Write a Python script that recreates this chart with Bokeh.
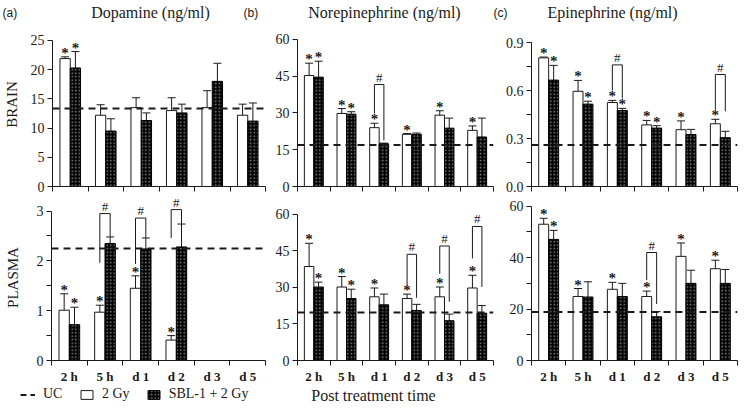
import math
from bokeh.plotting import figure
from bokeh.layouts import column, row
from bokeh.models import (ColumnDataSource, FixedTicker, Whisker, TeeHead,
                          LabelSet, Arrow, Legend, LegendItem, Range1d)
from bokeh.core.properties import value
from bokeh.embed import file_html
from bokeh.resources import INLINE

NAN = float("nan")
categories = ["2 h", "5 h", "d 1", "d 2", "d 3", "d 5"]

# ---- (a) Dopamine, brain
da_brain_2gy = [21.9, 12.2, 13.5, 13.0, 13.5, 12.2]
da_brain_2gy_err = [0.3, 1.8, 1.7, 2.2, 2.9, 1.9]
da_brain_sbl = [20.3, 9.5, 11.3, 12.6, 18.0, 11.2]
da_brain_sbl_err = [2.8, 2.1, 1.3, 1.5, 3.1, 3.1]
da_brain_uc = 13.35
da_brain_star_2gy = [1, 0, 0, 0, 0, 0]
da_brain_star_sbl = [1, 0, 0, 0, 0, 0]
da_brain_br_cat, da_brain_br_left, da_brain_br_top, da_brain_br_right = [], [], [], []
da_brain_yticks = [0, 5, 10, 15, 20, 25]
da_brain_ylabels = ["0", "5", "10", "15", "20", "25"]

# ---- (a) Dopamine, plasma
da_plasma_2gy = [1.01, 0.97, 1.45, 0.41, NAN, NAN]
da_plasma_2gy_err = [0.33, 0.14, 0.25, 0.09, NAN, NAN]
da_plasma_sbl = [0.72, 2.35, 2.24, 2.28, NAN, NAN]
da_plasma_sbl_err = [0.35, 0.13, 0.22, 0.46, NAN, NAN]
da_plasma_uc = 2.25
da_plasma_star_2gy = [1, 1, 1, 1, 0, 0]
da_plasma_star_sbl = [1, 0, 0, 0, 0, 0]
da_plasma_br_cat = [1, 2, 3]
da_plasma_br_left = [1.96, 1.94, 2.46]
da_plasma_br_top = [2.95, 2.86, 3.03]
da_plasma_br_right = [2.48, 2.46, 2.74]
da_plasma_yticks = [0, 0.5, 1, 1.5, 2, 2.5, 3]
da_plasma_ylabels = ["0", "", "1", "", "2", "", "3"]

# ---- (b) Norepinephrine, brain
ne_brain_2gy = [45.3, 29.8, 24.0, 21.3, 29.1, 22.9]
ne_brain_2gy_err = [5.0, 2.0, 1.8, 0.3, 1.8, 1.8]
ne_brain_sbl = [44.6, 29.5, 17.4, 21.3, 23.8, 20.2]
ne_brain_sbl_err = [6.5, 1.0, 0.3, 0.5, 4.1, 7.7]
ne_brain_uc = 16.9
ne_brain_star_2gy = [1, 1, 1, 1, 1, 1]
ne_brain_star_sbl = [1, 1, 0, 0, 0, 0]
ne_brain_br_cat = [2]
ne_brain_br_left = [29.8]
ne_brain_br_top = [41.6]
ne_brain_br_right = [18.8]
ne_brain_yticks = [0, 15, 30, 45, 60]
ne_brain_ylabels = ["0", "15", "30", "45", "60"]

# ---- (b) Norepinephrine, plasma
ne_plasma_2gy = [38.5, 30.1, 26.1, 25.4, 26.1, 29.7]
ne_plasma_2gy_err = [9.5, 4.3, 3.6, 1.8, 4.0, 5.2]
ne_plasma_sbl = [30.1, 25.4, 22.8, 20.5, 16.3, 19.4]
ne_plasma_sbl_err = [2.0, 3.8, 4.4, 2.5, 2.7, 3.1]
ne_plasma_uc = 19.7
ne_plasma_star_2gy = [1, 1, 1, 1, 1, 1]
ne_plasma_star_sbl = [1, 1, 0, 0, 0, 0]
ne_plasma_br_cat = [3, 4, 5]
ne_plasma_br_left = [30.8, 35.5, 41.8]
ne_plasma_br_top = [43.5, 46.9, 54.9]
ne_plasma_br_right = [25.7, 24.1, 30.1]
ne_plasma_yticks = [0, 15, 30, 45, 60]
ne_plasma_ylabels = ["0", "15", "30", "45", "60"]

# ---- (c) Epinephrine, brain
ep_brain_2gy = [0.804, 0.595, 0.525, 0.385, 0.355, 0.392]
ep_brain_2gy_err = [0.005, 0.068, 0.013, 0.028, 0.055, 0.028]
ep_brain_sbl = [0.665, 0.515, 0.475, 0.365, 0.325, 0.305]
ep_brain_sbl_err = [0.092, 0.018, 0.013, 0.015, 0.032, 0.040]
ep_brain_uc = 0.26
ep_brain_star_2gy = [1, 1, 1, 1, 1, 1]
ep_brain_star_sbl = [1, 1, 1, 1, 0, 0]
ep_brain_br_cat = [2, 5]
ep_brain_br_left = [0.60, 0.48]
ep_brain_br_top = [0.76, 0.70]
ep_brain_br_right = [0.55, 0.47]
ep_brain_yticks = [0, 0.15, 0.3, 0.45, 0.6, 0.75, 0.9]
ep_brain_ylabels = ["0.0", "", "0.3", "", "0.6", "", "0.9"]

# ---- (c) Epinephrine, plasma
ep_plasma_2gy = [53.0, 24.9, 27.7, 24.9, 40.5, 35.7]
ep_plasma_2gy_err = [2.3, 3.1, 2.7, 2.1, 5.2, 3.3]
ep_plasma_sbl = [47.1, 24.7, 24.9, 17.0, 30.0, 30.0]
ep_plasma_sbl_err = [3.5, 5.9, 5.1, 2.0, 5.1, 5.4]
ep_plasma_uc = 18.9
ep_plasma_star_2gy = [1, 1, 1, 1, 1, 1]
ep_plasma_star_sbl = [1, 0, 0, 0, 0, 0]
ep_plasma_br_cat = [3]
ep_plasma_br_left = [31.3]
ep_plasma_br_top = [42.0]
ep_plasma_br_right = [22.0]
ep_plasma_yticks = [0, 10, 20, 30, 40, 50, 60]
ep_plasma_ylabels = ["0", "", "20", "", "40", "", "60"]

panel_titles = ["Dopamine (ng/ml)", "Norepinephrine  (ng/ml)", "Epinephrine  (ng/ml)"]
panel_tags = ["(a)", "(b)", "(c)"]
row_names = ["BRAIN", "PLASMA"]
x_title = "Post treatment  time"
legend_labels = ["UC", "2 Gy", "SBL-1 + 2 Gy"]

# ---- layout / style constants
SERIF = "Liberation Serif"
SANS = "Liberation Sans"
INK = "#1a1a1a"
BAR_OFF = 0.145
BAR_W = 0.29
TOTAL_W = 745
HEAD_H, ROW1_H, ROW2_H, FOOT_H = 22, 172, 192, 27
ROW1_BB, ROW2_BB = 8, 22
COL_W = [272, 224, 249]
COL_BL = [51, 25, 35]
COL_BR = [7, 3, 8]
# visible top of each frame (the axis line stops at the last tick)
ROW1_TOP = [28.08, 66.9, 1.025]
ROW2_TOP = [3.333, 68.0, 64.56]
TAG_X = [2, 243, 493]
TITLE_X = [150, 386, 614]
HEAD_Y = 10
X_TITLE_POS = (375, 18)


def hatch_kw():
    return dict(fill_color="black", line_color="black", line_width=1,
                hatch_pattern="dot", hatch_color="#8a8a8a", hatch_scale=3.5,
                hatch_weight=1)


def panel(ci, height, bb, ytop, yticks, ylabels, v2, e2, vs, es, uc,
          st2, sts, bcat, bleft, btop, bright, show_x):
    n = len(categories)
    p = figure(width=COL_W[ci], height=height, output_backend="svg",
               toolbar_location=None, x_range=Range1d(0, n),
               y_range=Range1d(yticks[0], ytop),
               min_border_left=COL_BL[ci], min_border_right=COL_BR[ci],
               min_border_top=0, min_border_bottom=bb)
    p.title = None
    p.outline_line_color = None
    p.grid.visible = False
    centers = [i + 0.5 for i in range(n)]
    xw = [c - BAR_OFF for c in centers]
    xs = [c + BAR_OFF for c in centers]

    p.vbar(x=xw, top=v2, width=BAR_W, fill_color="white", line_color=INK, line_width=1)
    p.vbar(x=xs, top=vs, width=BAR_W, **hatch_kw())
    p.line(x=[0, n], y=[uc, uc], line_dash="7 5", line_width=2, line_color=INK)

    def whisk(xpos, vals, errs):
        d = dict(base=[], upper=[], lower=[])
        for x, v, e in zip(xpos, vals, errs):
            if not math.isnan(v):
                d["base"].append(x)
                d["upper"].append(v + e)
                d["lower"].append(v - e)
        wk = Whisker(base="base", upper="upper", lower="lower",
                     source=ColumnDataSource(d), line_color=INK, line_width=1,
                     upper_head=TeeHead(size=8, line_color=INK, line_width=1),
                     lower_head=TeeHead(size=8, line_color=INK, line_width=1))
        p.add_layout(wk)

    whisk(xw, v2, e2)
    whisk(xs, vs, es)

    star = dict(x=[], y=[], t=[])
    for xpos, vals, errs, flags in ((xw, v2, e2, st2), (xs, vs, es, sts)):
        for x, v, e, f in zip(xpos, vals, errs, flags):
            if f:
                star["x"].append(x)
                star["y"].append(v + e)
                star["t"].append("*")
    p.add_layout(LabelSet(x="x", y="y", text="t", source=ColumnDataSource(star),
                          text_font=value(SERIF), text_font_size="15px",
                          text_font_style="bold", text_align="center",
                          text_baseline="bottom", y_offset=-4, text_color=INK))

    if bcat:
        seg = dict(x0=[], y0=[], x1=[], y1=[])
        hs = dict(x=[], y=[], t=[])
        for c, lb, tp, rb in zip(bcat, bleft, btop, bright):
            xl = centers[c] - BAR_OFF
            xr = centers[c] + BAR_OFF
            for a, b, cc, d in ((xl, lb, xl, tp), (xl, tp, xr, tp), (xr, tp, xr, rb)):
                seg["x0"].append(a); seg["y0"].append(b)
                seg["x1"].append(cc); seg["y1"].append(d)
            hs["x"].append(centers[c]); hs["y"].append(tp); hs["t"].append("#")
        p.add_layout(Arrow(end=None, x_start="x0", y_start="y0", x_end="x1", y_end="y1",
                           source=ColumnDataSource(seg), line_color=INK, line_width=1))
        p.add_layout(LabelSet(x="x", y="y", text="t", source=ColumnDataSource(hs),
                              text_font=value(SERIF), text_font_size="13px",
                              text_align="center", text_baseline="bottom",
                              y_offset=0, text_color=INK))

    ya = p.yaxis[0]
    ya.ticker = FixedTicker(ticks=yticks)
    ya.bounds = (yticks[0], yticks[-1])
    ya.major_label_overrides = {t: l for t, l in zip(yticks, ylabels)}
    ya.major_tick_out = 5
    ya.major_tick_in = 0
    ya.minor_tick_out = 0
    ya.major_label_standoff = 3
    ya.major_label_text_font = SERIF
    ya.major_label_text_font_size = "14px"
    ya.major_label_text_color = INK
    ya.axis_line_color = INK
    ya.major_tick_line_color = INK

    xa = p.xaxis[0]
    if show_x:
        xa.ticker = FixedTicker(ticks=centers, minor_ticks=list(range(n + 1)))
        xa.major_label_overrides = {c: lab for c, lab in zip(centers, categories)}
        xa.major_label_text_font_size = "13px"
        xa.major_label_text_font_style = "bold"
    else:
        xa.ticker = FixedTicker(ticks=[], minor_ticks=list(range(n + 1)))
    xa.major_tick_out = 0
    xa.major_tick_in = 0
    xa.minor_tick_out = 5
    xa.minor_tick_in = 0
    xa.axis_line_color = INK
    xa.minor_tick_line_color = INK
    xa.major_label_text_font = SERIF
    xa.major_label_text_color = INK
    xa.major_label_standoff = 3
    return p


def strip(height):
    s = figure(width=TOTAL_W, height=height, output_backend="svg",
               toolbar_location=None, x_range=Range1d(0, TOTAL_W),
               y_range=Range1d(0, height), x_axis_type=None, y_axis_type=None,
               min_border_left=0, min_border_right=0, min_border_top=0,
               min_border_bottom=0)
    s.title = None
    s.outline_line_color = None
    return s


# header with panel tags and titles
head = strip(HEAD_H)
head.text(x=TAG_X, y=[HEAD_Y] * 3, text=panel_tags, text_font=value(SANS),
          text_font_size="12px", text_align="left", text_baseline="middle",
          text_color=INK)
head.text(x=TITLE_X, y=[HEAD_Y] * 3, text=panel_titles, text_font=value(SERIF),
          text_font_size="16px", text_align="center", text_baseline="middle",
          text_color=INK)

a1 = panel(0, ROW1_H, ROW1_BB, ROW1_TOP[0], da_brain_yticks, da_brain_ylabels,
           da_brain_2gy, da_brain_2gy_err, da_brain_sbl, da_brain_sbl_err,
           da_brain_uc, da_brain_star_2gy, da_brain_star_sbl,
           da_brain_br_cat, da_brain_br_left, da_brain_br_top, da_brain_br_right, False)
b1 = panel(1, ROW1_H, ROW1_BB, ROW1_TOP[1], ne_brain_yticks, ne_brain_ylabels,
           ne_brain_2gy, ne_brain_2gy_err, ne_brain_sbl, ne_brain_sbl_err,
           ne_brain_uc, ne_brain_star_2gy, ne_brain_star_sbl,
           ne_brain_br_cat, ne_brain_br_left, ne_brain_br_top, ne_brain_br_right, False)
c1 = panel(2, ROW1_H, ROW1_BB, ROW1_TOP[2], ep_brain_yticks, ep_brain_ylabels,
           ep_brain_2gy, ep_brain_2gy_err, ep_brain_sbl, ep_brain_sbl_err,
           ep_brain_uc, ep_brain_star_2gy, ep_brain_star_sbl,
           ep_brain_br_cat, ep_brain_br_left, ep_brain_br_top, ep_brain_br_right, False)
a2 = panel(0, ROW2_H, ROW2_BB, ROW2_TOP[0], da_plasma_yticks, da_plasma_ylabels,
           da_plasma_2gy, da_plasma_2gy_err, da_plasma_sbl, da_plasma_sbl_err,
           da_plasma_uc, da_plasma_star_2gy, da_plasma_star_sbl,
           da_plasma_br_cat, da_plasma_br_left, da_plasma_br_top, da_plasma_br_right, True)
b2 = panel(1, ROW2_H, ROW2_BB, ROW2_TOP[1], ne_plasma_yticks, ne_plasma_ylabels,
           ne_plasma_2gy, ne_plasma_2gy_err, ne_plasma_sbl, ne_plasma_sbl_err,
           ne_plasma_uc, ne_plasma_star_2gy, ne_plasma_star_sbl,
           ne_plasma_br_cat, ne_plasma_br_left, ne_plasma_br_top, ne_plasma_br_right, True)
c2 = panel(2, ROW2_H, ROW2_BB, ROW2_TOP[2], ep_plasma_yticks, ep_plasma_ylabels,
           ep_plasma_2gy, ep_plasma_2gy_err, ep_plasma_sbl, ep_plasma_sbl_err,
           ep_plasma_uc, ep_plasma_star_2gy, ep_plasma_star_sbl,
           ep_plasma_br_cat, ep_plasma_br_left, ep_plasma_br_top, ep_plasma_br_right, True)

for fig, name, stand in ((a1, row_names[0], 8), (a2, row_names[1], 13)):
    ax = fig.yaxis[0]
    ax.axis_label = name
    ax.axis_label_text_font = SERIF
    ax.axis_label_text_font_size = "15px"
    ax.axis_label_text_font_style = "normal"
    ax.axis_label_text_color = INK
    ax.axis_label_standoff = stand

# footer with legend and the x title (legend renderers sit outside the view)
foot = strip(FOOT_H)
r_uc = foot.line(x=[-20, -10], y=[-20, -20], line_dash="6 4", line_width=2,
                 line_color=INK)
r_w = foot.vbar(x=[-20], top=[-10], bottom=-20, width=1, fill_color="white",
                line_color=INK, line_width=1)
r_s = foot.vbar(x=[-20], top=[-10], bottom=-20, width=1, **hatch_kw())
legend = Legend(items=[LegendItem(label=legend_labels[0], renderers=[r_uc]),
                       LegendItem(label=legend_labels[1], renderers=[r_w]),
                       LegendItem(label=legend_labels[2], renderers=[r_s])],
                orientation="horizontal", location=(20, 11),
                label_text_font=SERIF, label_text_font_size="14px",
                label_text_color=INK, glyph_width=15, glyph_height=11,
                label_height=14, label_standoff=8, spacing=16, padding=0, margin=0,
                border_line_color=None, background_fill_alpha=0)
foot.add_layout(legend)
foot.text(x=[X_TITLE_POS[0]], y=[X_TITLE_POS[1]], text=[x_title], text_font=value(SERIF),
          text_font_size="16px", text_align="center", text_baseline="middle",
          text_color=INK)

layout = column(head, row(a1, b1, c1), row(a2, b2, c2), foot)
open("out.html", "w").write(file_html(layout, INLINE))
